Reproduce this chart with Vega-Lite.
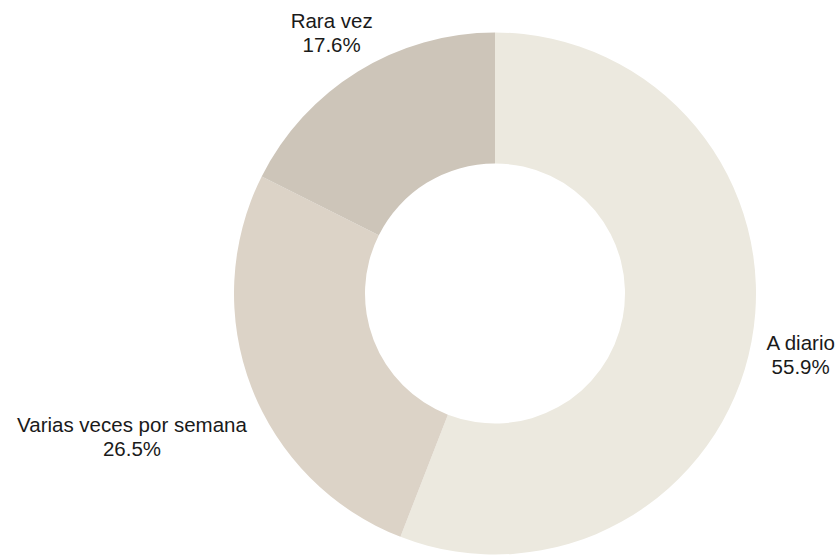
{
  "$schema": "https://vega.github.io/schema/vega-lite/v6.json",
  "autosize": "none",
  "width": 684,
  "height": 525,
  "padding": {"left": 153, "top": 31, "right": 0, "bottom": 0},
  "background": "white",
  "data": {
    "values": [
      {"label": "A diario", "value": 55.9, "k": 1, "text": "A diario\n55.9%"},
      {"label": "Varias veces por semana", "value": 26.5, "k": 2, "text": "Varias veces por semana\n26.5%"},
      {"label": "Rara vez", "value": 17.6, "k": 3, "text": "Rara vez\n17.6%"}
    ]
  },
  "encoding": {
    "theta": {"field": "value", "type": "quantitative", "stack": true},
    "order": {"field": "k", "type": "quantitative"}
  },
  "layer": [
    {
      "mark": {"type": "arc", "outerRadius": 261, "innerRadius": 130},
      "encoding": {
        "color": {
          "field": "label",
          "type": "nominal",
          "scale": {
            "domain": ["A diario", "Varias veces por semana", "Rara vez"],
            "range": ["#ECE9DF", "#DCD3C7", "#CDC5B9"]
          },
          "legend": null
        }
      }
    },
    {
      "mark": {"type": "text", "radius": 311, "dy": -7, "fontSize": 20.5, "font": "Liberation Sans", "lineBreak": "\n", "lineHeight": 24, "align": "center", "baseline": "middle", "fill": "#1a1a1a"},
      "encoding": {
        "detail": {"field": "label", "type": "nominal"},
        "text": {"condition": {"test": "datum.label !== 'Varias veces por semana'", "field": "text"}, "value": ""}
      }
    },
    {
      "mark": {"type": "text", "radius": 389, "dy": -7, "fontSize": 20.5, "font": "Liberation Sans", "lineBreak": "\n", "lineHeight": 24, "align": "center", "baseline": "middle", "fill": "#1a1a1a"},
      "encoding": {
        "detail": {"field": "label", "type": "nominal"},
        "text": {"condition": {"test": "datum.label === 'Varias veces por semana'", "field": "text"}, "value": ""}
      }
    }
  ]
}
